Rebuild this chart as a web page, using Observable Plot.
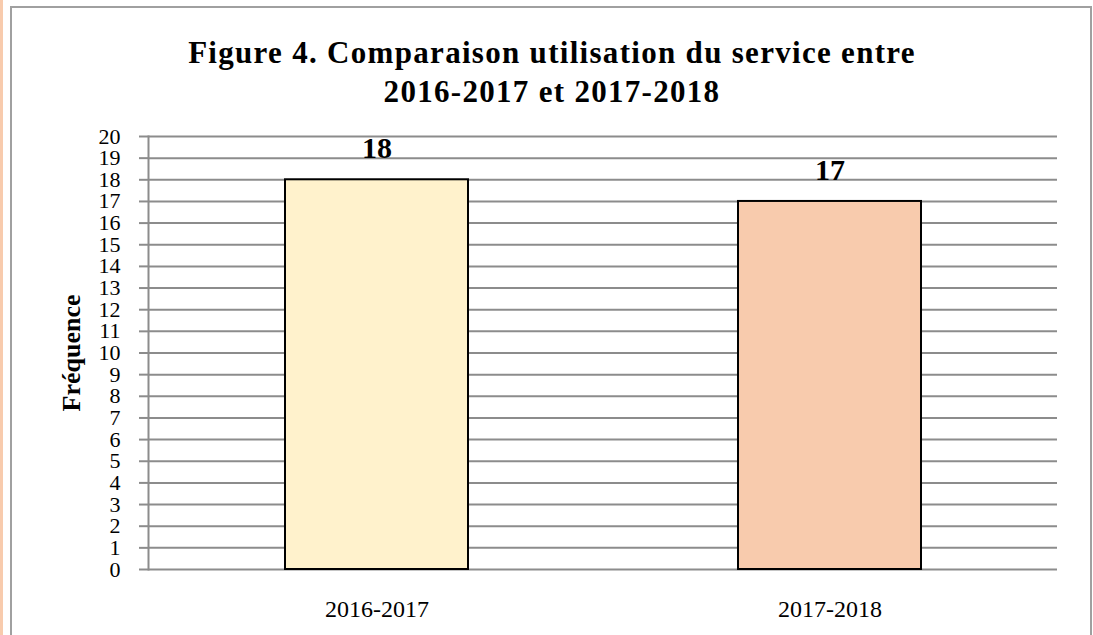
<!DOCTYPE html>
<html>
<head>
<meta charset="utf-8">
<script src="https://cdn.jsdelivr.net/npm/d3@7"></script>
<script src="https://cdn.jsdelivr.net/npm/@observablehq/plot@0.6"></script>
<style>
  html, body { margin: 0; padding: 0; background: #fff; }
  #wrap { position: relative; width: 1093px; height: 635px; overflow: hidden; background: #fff; font-family: "Liberation Serif", serif; }
  #strip { position: absolute; left: 0; top: 0; width: 3px; height: 635px; background: #f8cbad; }
  #box { position: absolute; left: 10px; top: 6px; width: 1082px; height: 640px; border: 2px solid #a0a0a0; box-sizing: border-box; }
  #title { position: absolute; left: 0; top: 33px; width: 1104px; text-align: center; font-weight: bold; font-size: 31px; line-height: 39px; letter-spacing: 1.3px; color: #000; }
  #chart { position: absolute; left: 0; top: 0; }
</style>
</head>
<body>
<div id="wrap">
  <div id="strip"></div>
  <div id="box"></div>
  <div id="chart"></div>
  <div id="title">Figure 4. Comparaison utilisation du service entre<br>2016-2017 et 2017-2018</div>
</div>
<script>
const categories = ["2016-2017", "2017-2018"];
const values = [18, 17];
const colors = ["#fff2cc", "#f8cbad"];
const yTicks = d3.range(0, 21);
const yLabel = "Fréquence";

const data = categories.map((c, i) => ({cat: c, value: values[i], color: colors[i]}));

const chart = Plot.plot({
  width: 1093,
  height: 635,
  marginTop: 136,
  marginBottom: 66,
  marginLeft: 148,
  marginRight: 36,
  style: {fontFamily: "'Liberation Serif', serif", background: "transparent", color: "#000"},
  x: {domain: categories, paddingInner: 0.597, paddingOuter: 0.3, axis: null},
  y: {domain: [0, 20], axis: null},
  marks: [
    Plot.ruleY(yTicks, {y: d => d, stroke: "#8c8c8c", strokeWidth: 2, strokeOpacity: 1}),
    Plot.frame({anchor: "left", stroke: "#8c8c8c", strokeWidth: 2, strokeOpacity: 1}),
    Plot.axisY({ticks: yTicks, tickSize: 9, text: null, label: null, stroke: "#8c8c8c", strokeWidth: 2, strokeOpacity: 1}),
    Plot.axisY({ticks: yTicks, tickSize: 0, tickPadding: 28, fontSize: 22, fill: "#000", label: null}),
    Plot.barY(data, {x: "cat", y: "value", fill: "color", stroke: "#000", strokeWidth: 2}),
    Plot.text(data, {x: "cat", y: "value", text: d => String(d.value), dy: -31, fontSize: 30, fontWeight: "bold", fill: "#000"}),
    Plot.axisX({tickSize: 0, tickPadding: 30, fontSize: 24, fill: "#000", label: null, style: {letterSpacing: "1px"}}),
    Plot.text([yLabel], {frameAnchor: "left", textAnchor: "middle", dx: -77, rotate: -90, fontSize: 26, fontWeight: "bold", fill: "#000", text: d => d, style: {letterSpacing: "1px"}})
  ]
});
document.getElementById("chart").appendChild(chart);
</script>
</body>
</html>
